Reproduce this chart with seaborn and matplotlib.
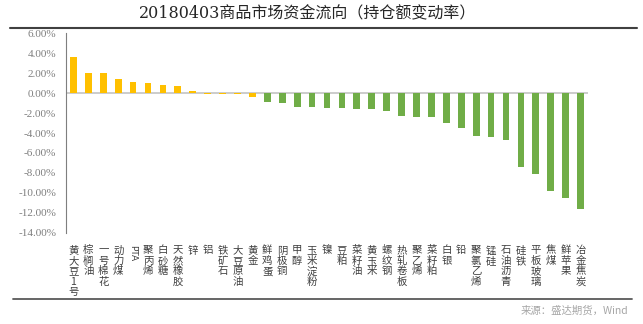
import matplotlib
matplotlib.use("Agg")
import matplotlib.pyplot as plt
from matplotlib.lines import Line2D
import seaborn as sns
import pandas as pd

categories = ["黄大豆1号", "棕榈油", "一号棉花", "动力煤", "PTA", "聚丙烯", "白砂糖", "天然橡胶",
              "锌", "铝", "铁矿石", "大豆原油", "黄金", "鲜鸡蛋", "阴极铜", "甲醇", "玉米淀粉",
              "镍", "豆粕", "菜籽油", "黄玉米", "螺纹钢", "热轧卷板", "聚乙烯", "菜籽粕", "白银",
              "铅", "聚氯乙烯", "锰硅", "石油沥青", "硅铁", "平板玻璃", "焦煤", "鲜苹果", "冶金焦炭"]
values = [3.65, 1.97, 1.97, 1.37, 1.10, 1.03, 0.77, 0.67,
          0.17, -0.12, -0.12, -0.12, -0.38, -0.92, -1.02, -1.35, -1.35,
          -1.45, -1.45, -1.55, -1.55, -1.80, -2.30, -2.40, -2.40, -3.00,
          -3.50, -4.25, -4.45, -4.70, -7.40, -8.10, -9.85, -10.50, -11.60]
groups = ["yellow"] * 13 + ["green"] * 22
yticks = [-14, -12, -10, -8, -6, -4, -2, 0, 2, 4, 6]
title = "20180403商品市场资金流向（持仓额变动率）"
source = "来源：盛达期货，Wind"

df = pd.DataFrame({"cat": categories, "val": values, "grp": groups})

sns.set_style("white")
plt.rcParams["font.family"] = ["Noto Sans CJK SC", "DejaVu Sans"]

fig = plt.figure(figsize=(6.43, 3.24), dpi=100)
ax = fig.add_axes([0.1026, 0.281, 0.8119, 0.617])

sns.barplot(data=df, x="cat", y="val", hue="grp", order=categories,
            palette={"yellow": "#FFC000", "green": "#70AD47"},
            dodge=False, width=0.45, legend=False, ax=ax,
            edgecolor="none", saturation=1, zorder=3)

ax.set_xlim(-0.5, len(categories) - 0.5)
ax.set_ylim(-14, 6)
ax.axhline(0, color="#BFBFBF", lw=1.1, zorder=2)
ax.set_yticks(yticks)
ax.set_yticklabels([f"{v:.2f}%" for v in yticks], family=["Liberation Serif", "DejaVu Serif"],
                   fontsize=8, color="#7F7F7F")
ax.tick_params(axis="y", direction="out", length=4, width=0.8, color="#7F7F7F", pad=3)

ax.set_xticks(range(len(categories)))
labels = [c if c == "PTA" else "\n".join(list(c)) for c in categories]
ax.set_xticklabels(labels, fontsize=7.5, color="#404040", linespacing=1.05)
ax.tick_params(axis="x", length=0, pad=9)
for t in ax.get_xticklabels():
    if t.get_text() == "PTA":
        t.set_rotation(-90)
        t.set_family(["DejaVu Sans"])
        t.set_fontsize(6.5)

ax.set_xlabel("")
ax.set_ylabel("")
for s in ["top", "right", "bottom"]:
    ax.spines[s].set_visible(False)
ax.spines["left"].set_color("#7F7F7F")
ax.spines["left"].set_linewidth(0.8)

fig.text(0.478, 0.958, title, ha="center", va="center", fontsize=11.5, color="#262626",
         family=["DejaVu Serif", "Noto Sans CJK SC"])
fig.add_artist(Line2D([0.015, 0.99], [0.915, 0.915], transform=fig.transFigure,
                      color="#404040", lw=1.5))
fig.add_artist(Line2D([0.02, 0.983], [0.077, 0.077], transform=fig.transFigure,
                      color="#595959", lw=1.3))
fig.text(0.977, 0.04, source, ha="right", va="center", fontsize=7.5, color="#A6A6A6",
         style="italic", family=["Noto Sans CJK SC", "DejaVu Sans"])

fig.savefig("out.png", dpi=100)
